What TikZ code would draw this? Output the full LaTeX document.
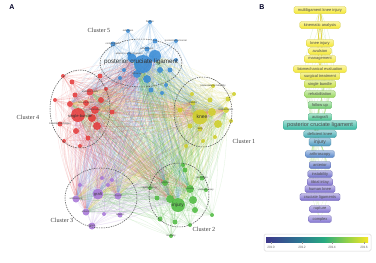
\documentclass[tikz,border=0pt]{standalone}
\usepackage{fontspec}
\setmainfont{Liberation Serif}
\setsansfont{Liberation Sans}
\usetikzlibrary{backgrounds}

% colori dei cluster
\definecolor{cy}{RGB}{205,205,35}
\definecolor{cg}{RGB}{75,185,60}
\definecolor{cp}{RGB}{165,115,215}
\definecolor{cr}{RGB}{228,55,55}
\definecolor{cb}{RGB}{50,135,212}
% colori per anno (pannello B)
\definecolor{yA}{RGB}{245,232,50}
\definecolor{yB}{RGB}{232,228,52}
\definecolor{yC}{RGB}{200,224,62}
\definecolor{yD}{RGB}{150,215,90}
\definecolor{yE}{RGB}{112,204,112}
\definecolor{yF}{RGB}{72,194,142}
\definecolor{yG}{RGB}{55,184,162}
\definecolor{yH}{RGB}{62,168,176}
\definecolor{yI}{RGB}{76,153,192}
\definecolor{yJ}{RGB}{86,134,202}
\definecolor{yK}{RGB}{96,120,202}
\definecolor{yL}{RGB}{110,110,202}
\definecolor{yM}{RGB}{124,110,206}
\definecolor{yN}{RGB}{130,116,210}

\tikzset{
  kw/.style={circle, fill=#1, draw=none, inner sep=0pt, fill opacity=0.85},
  kwlab/.style={font=\sffamily\fontsize{2.4}{2.6}\selectfont, text=black!75, inner sep=0pt},
  hublab/.style={font=\sffamily\fontsize{#1}{#1}\selectfont, text=black!80, inner sep=0pt},
  edge/.style={line width=0.3pt, draw opacity=0.17},
  clusterline/.style={draw=black!70, line width=0.5pt, dash pattern=on 1.4pt off 1pt},
  clusterlab/.style={font=\fontsize{6.2}{7}\selectfont, text=black!75},
  panellab/.style={font=\sffamily\bfseries\fontsize{7}{8}\selectfont, text=black!85!blue},
  term/.style={rounded corners=1.5pt, top color=#1!45!white, bottom color=#1,
    draw=#1!85!black, line width=0.2pt, inner xsep=4pt, inner ysep=0pt,
    minimum height=7pt, font=\sffamily\fontsize{4}{4.5}\selectfont, text=black!70},
  bedge/.style={line width=0.35pt, draw=yD!70!white, draw opacity=0.4},
  yedge/.style={line width=0.8pt, draw=yA!90!black, draw opacity=0.75},
  barlab/.style={font=\sffamily\fontsize{3.2}{4}\selectfont, text=black!60, inner sep=0pt},
}

\begin{document}
\begin{tikzpicture}[x=1pt, y=-1pt]
\useasboundingbox (0,0) rectangle (376,263);

% ---------- Pannello A ----------
\node[panellab] (pa) at (12,7) {A};

% nodi principali (hub)
\node[kw=cb, minimum size=18pt] (b0) at (143,64) {};
\node[kw=cr, minimum size=14pt] (r0) at (78,115) {};
\node[kw=cy, minimum size=15pt] (y0) at (200,117) {};
\node[kw=cp, minimum size=11pt] (p0) at (98,194) {};
\node[kw=cg, minimum size=14pt] (g0) at (178,205) {};

% cluster 5
\foreach \n/\x/\y/\r/\t in {b1/155/56/6/{}, b2/132/58/4.5/{}, b3/137/74/4/{follow-up},
    b4/147/79/4/{}, b5/160/70/3/{}, b6/170/70/2.5/{}, b7/113/44/2.5/{complications},
    b8/150/22/2/{fixation}, b9/128/31/2/{outcomes}, b10/155/41/2.5/{},
    b11/176/41/2/{posterolateral corner}, b12/147/49/2.5/{arthroscopic},
    b13/129/54/2/{anterior cruciate ligament}, b14/151/90/2.5/{}, b15/166/85/2/{},
    b16/120/78/2/{}, b17/176/60/2/{}, b18/124/70/2/{}, b19/162/93/2/{}}
  \node[kw=cb, minimum size={2*\r*1pt}, label={[kwlab]center:\t}] (\n) at (\x,\y) {};

% cluster 4
\foreach \n/\x/\y/\r/\t in {r1/95/110/4/{tibial inlay}, r2/70/104/3/{}, r3/90/92/3.5/{anatomic study},
    r4/101/100/3/{}, r5/97/126/4/{}, r6/76/131/3/{}, r7/60/124/2.5/{transtibial technique},
    r8/72/82/2.5/{}, r9/100/76/2.5/{}, r10/112/112/2.5/{}, r11/88/138/2.5/{}, r12/80/146/2/{},
    r13/64/141/2/{}, r14/55/100/2/{}, r15/92/118/4/{}, r16/86/103/3/{femoral tunnel},
    r17/75/95/2.5/{}, r18/63/76/2/{}, r19/106/89/2/{}}
  \node[kw=cr, minimum size={2*\r*1pt}, label={[kwlab]center:\t}] (\n) at (\x,\y) {};

% cluster 1
\foreach \n/\x/\y/\r/\t in {y1/212/112/4/{}, y2/226/110/3/{biomechanics}, y3/193/103/2.5/{stability},
    y4/210/100/2.5/{}, y5/190/126/2.5/{}, y6/218/124/4/{}, y7/200/129/2.5/{laxity},
    y8/203/141/2/{}, y9/186/146/2/{}, y10/192/94/2/{},
    y11/213/86/2/{posterolateral instability}, y12/228/99/2.5/{}, y13/231/121/2/{},
    y14/234/94/2/{}, y15/215/137/2/{}, y16/180/110/2.5/{}}
  \node[kw=cy, minimum size={2*\r*1pt}, label={[kwlab]center:\t}] (\n) at (\x,\y) {};

% cluster 3
\foreach \n/\x/\y/\r/\t in {p1/76/199/3.5/{arthroscopy}, p2/118/196/3.5/{allograft}, p3/86/212/3.5/{anterior},
    p4/92/226/3.5/{failure}, p5/120/215/2.5/{tension}, p6/108/185/2/{}, p7/112/180/2/{},
    p8/80/185/2/{}, p9/102/178/2/{}, p10/104/214/2/{}}
  \node[kw=cp, minimum size={2*\r*1pt}, label={[kwlab]center:\t}] (\n) at (\x,\y) {};

% cluster 2
\foreach \n/\x/\y/\r/\t in {g1/170/199/4/{}, g2/190/189/4/{trauma}, g3/165/183/3/{athletes},
    g4/185/170/2.5/{}, g5/202/178/2.5/{dislocation}, g6/206/190/2/{vascular injury},
    g7/157/198/2.5/{}, g8/160/219/2.5/{}, g9/175/222/2.5/{}, g10/190/225/2/{},
    g11/212/215/2/{}, g12/171/236/2/{mortality}, g13/195/210/3/{},
    g14/183/165/2/{}, g15/150/188/2/{epidemiology}, g16/193/200/4/{}}
  \node[kw=cg, minimum size={2*\r*1pt}, label={[kwlab]center:\t}] (\n) at (\x,\y) {};

% etichette hub
\node[hublab=6.3] (b0l) at (141,62) {posterior cruciate ligament};
\node[hublab=4] (r0l) at (80,116) {single-bundle};
\node[hublab=5] (y0l) at (202,117) {knee};
\node[hublab=4] (p0l) at (98,194) {graft};
\node[hublab=4.8] (g0l) at (178,205) {injury};

% collegamenti
\begin{scope}[on background layer]
\fill[white] (0,0) rectangle (376,263);
\foreach \a/\m in {b/19,r/19,y/16,p/10,g/16} {
  \foreach \i in {1,...,\m} {
    \foreach \h in {b,r,y,p,g} {
      \draw[edge, color=c\a] (\a\i) to[bend left=12] (\h0);
      \foreach \k in {1,2,3} {
        \edef\na{\a\i}\edef\nb{\h\k}
        \ifx\na\nb\else\draw[edge, color=c\a] (\na) to[bend right=10] (\nb);\fi
      }
    }
  }
}
\foreach \u/\v in {b/r,b/y,b/p,b/g,r/y,r/p,r/g,y/p,y/g,p/g}
  \draw[edge, draw opacity=0.3, color=c\u!50!c\v] (\u0) to[bend left=10] (\v0);
\end{scope}

% cerchi tratteggiati
\draw[clusterline] (141,63) ellipse [x radius=41pt, y radius=24pt];
\draw[clusterline] (80,109) ellipse [x radius=30pt, y radius=39pt];
\draw[clusterline] (203,112) ellipse [x radius=29pt, y radius=35pt];
\draw[clusterline] (101,198) ellipse [x radius=36pt, y radius=30pt];
\draw[clusterline] (179,195) ellipse [x radius=30pt, y radius=32pt];

\node[clusterlab] (c5) at (99,30) {Cluster 5};
\node[clusterlab] (c4) at (28,117) {Cluster 4};
\node[clusterlab] (c1) at (244,141) {Cluster 1};
\node[clusterlab] (c3) at (62,220) {Cluster 3};
\node[clusterlab] (c2) at (204,229) {Cluster 2};

% ---------- Pannello B ----------
\node[panellab] (pb) at (262,7) {B};

\foreach \n/\y/\c/\t in {t1/10/yA/{multiligament knee injury}, t2/25/yA/{kinematic analysis},
    t3/43/yA/{knee injury}, t4/51/yA/{avulsion}, t5/59/yA/{management},
    t6/69/yA/{biomechanical evaluation}, t7/76/yB/{surgical treatment},
    t8/84/yC/{single bundle}, t9/94/yD/{rehabilitation}, t10/105/yE/{follow up},
    t11/117/yF/{autograft}, t13/134/yH/{deficient knee}, t15/154/yJ/{arthroscopy},
    t16/165/yK/{anterior}, t17/174/yL/{instability}, t18/182/yM/{tibial inlay},
    t19/189/yM/{human knee}, t20/197/yM/{cruciate ligaments}, t21/209/yN/{rupture},
    t22/219/yN/{complex}}
  \node[term=\c] (\n) at (320,\y) {\t};
\node[term=yG, minimum height=9pt, font=\sffamily\fontsize{5.6}{6}\selectfont] (t12) at (320,125) {posterior cruciate ligament};
\node[term=yI, minimum height=8pt, inner xsep=5pt, font=\sffamily\fontsize{5}{6}\selectfont] (t14) at (320,142) {injury};

\begin{scope}[on background layer]
\foreach \i in {1,...,22} {
  \ifnum\i=12\else\draw[bedge] (t\i) to[bend left=22] (t12);\fi
  \ifnum\i=14\else\draw[bedge] (t\i) to[bend right=22] (t14);\fi
  \ifnum\i=10\else\draw[bedge] (t\i) to[bend left=14] (t10);\fi
}
\draw[yedge] (t1) to[bend left=12] (t3);
\draw[yedge] (t1) to[bend right=12] (t3);
\draw[yedge] (t2) to[bend left=8] (t6);
\draw[yedge] (t2) to[bend right=8] (t6);
\draw[yedge] (t1) -- (t2);
\end{scope}

% barra dei colori
\draw[black!15, line width=0.5pt, rounded corners=1.5pt] (264,234) rectangle (371,251);
\shade[left color={rgb,255:red,62;green,56;blue,140}, right color={rgb,255:red,44;green,118;blue,146}] (266,237) rectangle (300,242);
\shade[left color={rgb,255:red,44;green,118;blue,146}, right color={rgb,255:red,40;green,170;blue,128}] (300,237) rectangle (324,242);
\shade[left color={rgb,255:red,40;green,170;blue,128}, right color={rgb,255:red,150;green,210;blue,70}] (324,237) rectangle (348,242);
\shade[left color={rgb,255:red,150;green,210;blue,70}, right color={rgb,255:red,246;green,230;blue,40}] (348,237) rectangle (368,242);
\foreach \x/\t in {271/2010, 302/2012, 332/2014, 364/2016} {
  \draw[black!40, line width=0.2pt] (\x,242) -- (\x,244);
  \node[barlab] (yr\t) at (\x,247.5) {\t};
}
\end{tikzpicture}
\end{document}
